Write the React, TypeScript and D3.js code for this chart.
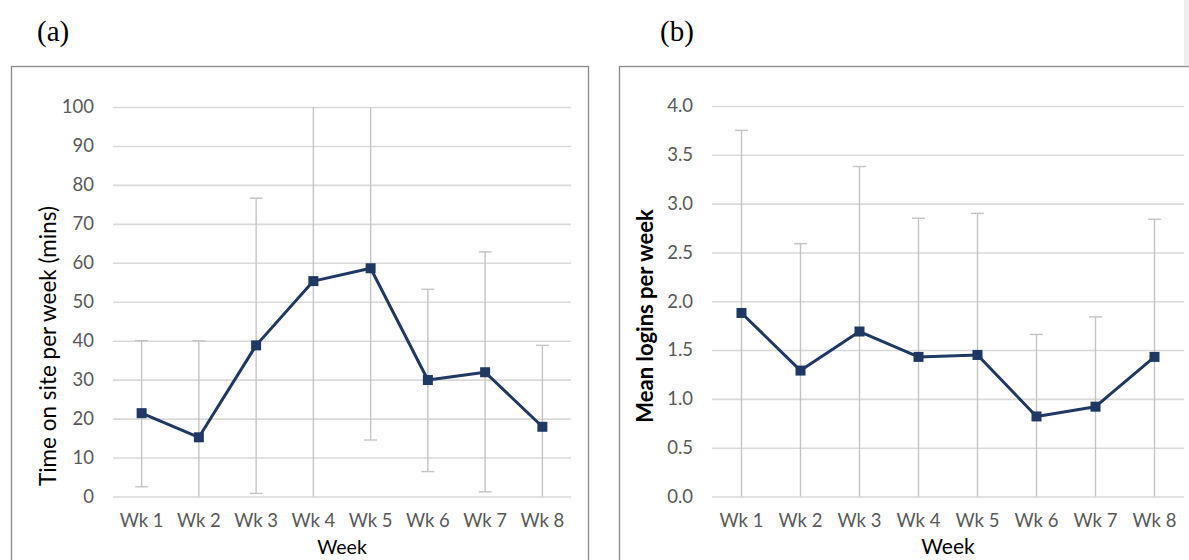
import React, { useEffect, useRef } from "react";
import * as d3 from "d3";

// week categories shared by both panels
const weeks = ["Wk 1", "Wk 2", "Wk 3", "Wk 4", "Wk 5", "Wk 6", "Wk 7", "Wk 8"];

// (a) time on site per week (mins), error bar ends clipped to the axis
const timeMeans = [21.4, 15.2, 38.8, 55.3, 58.6, 29.9, 31.9, 17.9];
const timeLow = [2.5, 0, 0.8, 0, 14.5, 6.4, 1.2, 0];
const timeHigh = [40, 40, 76.6, 100, 100, 53.2, 62.8, 38.8];
const timeTicks = [0, 10, 20, 30, 40, 50, 60, 70, 80, 90, 100];

// (b) mean logins per week
const loginMeans = [1.88, 1.29, 1.69, 1.43, 1.45, 0.82, 0.92, 1.43];
const loginLow = [0, 0, 0, 0, 0, 0, 0, 0];
const loginHigh = [3.75, 2.59, 3.38, 2.85, 2.9, 1.66, 1.84, 2.84];
const loginTicks = [0, 0.5, 1, 1.5, 2, 2.5, 3, 3.5, 4];

const FONT = "Lato, 'Open Sans', sans-serif";
const NAVY = "#203864";

type Panel = {
  label: string;
  labelX: number;
  box: number[]; // x, y, w, h of the frame
  plot: number[]; // left, top, right, bottom
  means: number[];
  low: number[];
  high: number[];
  ticks: number[];
  fmt: (v: number) => string;
  yTitle: string;
  yTitlePos: number[];
  yTitleSize: number;
  yTitleBold: boolean;
  xTitleSize: number;
};

const drawPanel = (svg: any, p: Panel) => {
  const [left, top, right, bottom] = p.plot;
  const g = svg.append("g");

  // frame
  g.append("rect")
    .attr("x", p.box[0] + 0.5)
    .attr("y", p.box[1] + 0.5)
    .attr("width", p.box[2])
    .attr("height", p.box[3])
    .attr("fill", "white")
    .attr("stroke", "#8f8f8f")
    .attr("stroke-width", 1.4);

  const x = d3.scalePoint().domain(weeks).range([left, right]).padding(0.5);
  const yMin = p.ticks[0];
  const yMax = p.ticks[p.ticks.length - 1];
  const y = d3.scaleLinear().domain([yMin, yMax]).range([bottom, top]);

  // y axis with gridlines
  const yAxis = g.append("g")
    .attr("transform", `translate(${left},0)`)
    .call(d3.axisLeft(y).tickValues(p.ticks).tickFormat(p.fmt as any).tickSize(-(right - left)).tickPadding(19));
  yAxis.select(".domain").remove();
  yAxis.selectAll("line").attr("stroke", "#d9d9d9").attr("stroke-width", 1.6);
  yAxis.selectAll("text")
    .attr("fill", "#595959")
    .style("font-family", FONT)
    .style("font-size", "18.5px");

  // category labels
  g.selectAll(".wk")
    .data(weeks)
    .join("text")
    .attr("x", (d: string) => x(d))
    .attr("y", bottom + 30)
    .attr("text-anchor", "middle")
    .attr("fill", "#595959")
    .style("font-family", FONT)
    .style("font-size", "18.5px")
    .text((d: string) => d);

  // error bars
  const bars = weeks.map((w, i) => ({ w, lo: p.low[i], hi: p.high[i] }));
  g.selectAll(".err")
    .data(bars)
    .join("line")
    .attr("x1", (d: any) => x(d.w))
    .attr("x2", (d: any) => x(d.w))
    .attr("y1", (d: any) => y(d.lo))
    .attr("y2", (d: any) => y(d.hi))
    .attr("stroke", "#c4c4c4")
    .attr("stroke-width", 1.4);
  const caps: any[] = [];
  bars.forEach((b) => {
    if (b.lo > yMin) caps.push({ w: b.w, v: b.lo });
    if (b.hi < yMax) caps.push({ w: b.w, v: b.hi });
  });
  g.selectAll(".cap")
    .data(caps)
    .join("line")
    .attr("x1", (d: any) => (x(d.w) as number) - 6.5)
    .attr("x2", (d: any) => (x(d.w) as number) + 6.5)
    .attr("y1", (d: any) => y(d.v))
    .attr("y2", (d: any) => y(d.v))
    .attr("stroke", "#c4c4c4")
    .attr("stroke-width", 1.4);

  // mean line and square markers
  const line = d3.line<number>()
    .x((_, i) => x(weeks[i]) as number)
    .y((d) => y(d));
  g.append("path")
    .datum(p.means)
    .attr("d", line)
    .attr("fill", "none")
    .attr("stroke", NAVY)
    .attr("stroke-width", 3)
    .attr("stroke-linejoin", "round");
  g.selectAll(".mk")
    .data(p.means)
    .join("rect")
    .attr("x", (_: number, i: number) => (x(weeks[i]) as number) - 5)
    .attr("y", (d: number) => y(d) - 5)
    .attr("width", 10)
    .attr("height", 10)
    .attr("fill", NAVY);

  // titles
  g.append("text")
    .attr("x", (left + right) / 2)
    .attr("y", 554)
    .attr("text-anchor", "middle")
    .attr("fill", "black")
    .style("font-family", FONT)
    .style("font-size", `${p.xTitleSize}px`)
    .text("Week");

  g.append("text")
    .attr("transform", `translate(${p.yTitlePos[0]},${p.yTitlePos[1]}) rotate(-90)`)
    .attr("text-anchor", "middle")
    .attr("dy", "0.35em")
    .attr("fill", "black")
    .style("font-family", FONT)
    .style("font-size", `${p.yTitleSize}px`)
    .style("font-weight", p.yTitleBold ? "bold" : "normal")
    .text(p.yTitle);

  // panel letter
  g.append("text")
    .attr("x", p.labelX)
    .attr("y", 41)
    .attr("fill", "black")
    .style("font-family", "'Liberation Serif', 'Times New Roman', serif")
    .style("font-size", "29px")
    .text(p.label);
};

const App = () => {
  const svgRef = useRef<SVGSVGElement>(null);

  useEffect(() => {
    const w = 1189;
    const h = 560;
    const svg = d3.select(svgRef.current)
      .attr("width", w)
      .attr("height", h)
      .style("position", "absolute")
      .style("left", "0px")
      .style("top", "0px")
      .style("background", "white");
    svg.selectAll("*").remove();

    drawPanel(svg, {
      label: "(a)",
      labelX: 37,
      box: [11, 66, 577, 520],
      plot: [113, 107, 571, 496.5],
      means: timeMeans,
      low: timeLow,
      high: timeHigh,
      ticks: timeTicks,
      fmt: d3.format("d"),
      yTitle: "Time on site per week (mins)",
      yTitlePos: [48, 346],
      yTitleSize: 22.5,
      yTitleBold: false,
      xTitleSize: 19.5,
    });

    drawPanel(svg, {
      label: "(b)",
      labelX: 660,
      box: [619, 66, 600, 520],
      plot: [712, 106, 1184, 496.5],
      means: loginMeans,
      low: loginLow,
      high: loginHigh,
      ticks: loginTicks,
      fmt: d3.format(".1f"),
      yTitle: "Mean logins per week",
      yTitlePos: [645, 316],
      yTitleSize: 22,
      yTitleBold: true,
      xTitleSize: 21,
    });

    // thin grey strip at the top right edge
    svg.append("rect")
      .attr("x", 1184)
      .attr("y", 0)
      .attr("width", 5)
      .attr("height", 65)
      .attr("fill", "#ededed");
  }, []);

  return <svg ref={svgRef}></svg>;
};

export default App;
